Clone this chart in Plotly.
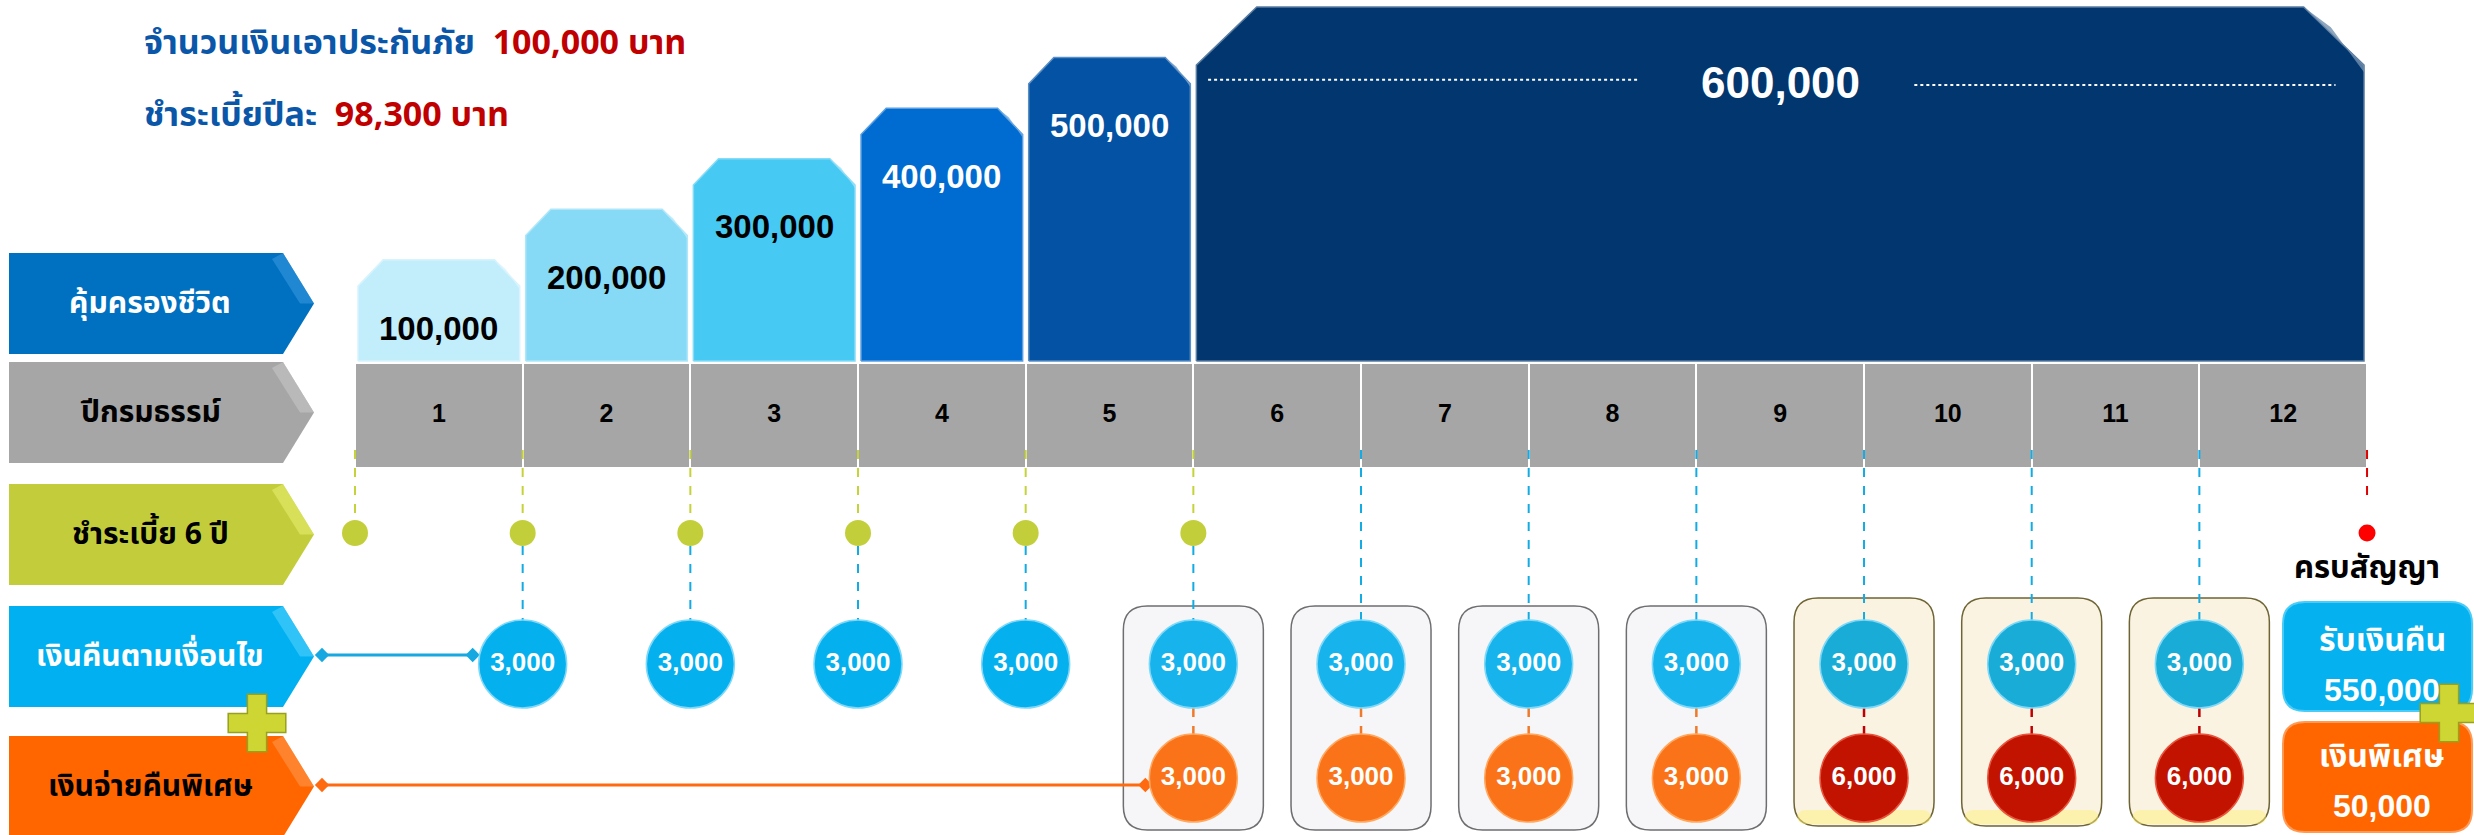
import plotly.graph_objects as go

# ---------------- data ----------------
years = [1, 2, 3, 4, 5, 6, 7, 8, 9, 10, 11, 12]
year_labels = ["1", "2", "3", "4", "5", "6", "7", "8", "9", "10", "11", "12"]
coverage = [100000, 200000, 300000, 400000, 500000, 600000, 600000,
            600000, 600000, 600000, 600000, 600000]
premium_years = [1, 2, 3, 4, 5, 6]
cashback_years = [1, 2, 3, 4, 5, 6, 7, 8, 9, 10, 11]
cashback_values = [3000, 3000, 3000, 3000, 3000, 3000, 3000, 3000, 3000, 3000, 3000]
special_years = [5, 6, 7, 8, 9, 10, 11]
special_values = [3000, 3000, 3000, 3000, 6000, 6000, 6000]
maturity_refund = 550000
maturity_bonus = 50000
sum_insured = 100000
annual_premium = 98300
row_labels = ["คุ้มครองชีวิต", "ปีกรมธรรม์", "ชำระเบี้ย 6 ปี", "เงินคืนตามเงื่อนไข", "เงินจ่ายคืนพิเศษ"]
title_labels = ["จำนวนเงินเอาประกันภัย", "ชำระเบี้ยปีละ"]
maturity_labels = ["รับเงินคืน", "เงินพิเศษ"]
maturity_caption = "ครบสัญญา"
currency = "บาท"

# ---------------- layout constants ----------------
W, H = 2474, 835
X0_PX = 355.0
COL_PX = 167.67


def px2x(px):
    return 0.5 + (px - X0_PX) / COL_PX


XR = [px2x(0), px2x(W)]
BAR_BASE_VALUE = -100000
BAR_BASE_PX = 361.0
BAR_TOP_PX = 7.0
K = (BAR_BASE_PX - BAR_TOP_PX) / (max(coverage) - BAR_BASE_VALUE)
Y2R = [BAR_BASE_VALUE - (H - BAR_BASE_PX) / K, BAR_BASE_VALUE + BAR_BASE_PX / K]

THAI = "Noto Sans Thai, Noto Sans, DejaVu Sans, Liberation Sans, sans-serif"
NUM = "Liberation Sans, Arial, sans-serif"

bar_colors = ["#C2EEFC", "#86DAF6", "#46C9F2", "#006BD0", "#0352A3", "#02366E"]
bar_text_colors = ["#000000", "#000000", "#000000", "#FFFFFF", "#FFFFFF", "#FFFFFF"]

label_rows = [(253, 354), (362, 463), (484, 585), (606, 707), (736, 837)]
label_fill = ["#0070C0", "#A6A6A6", "#C3CD3C", "#00B0F0", "#FF6600"]
label_hi = ["#3A9BE0", "#C8C8C8", "#E8F070", "#55D4FF", "#FF9A50"]
label_txt = ["#FFFFFF", "#000000", "#000000", "#FFFFFF", "#000000"]

GREY_TOP, GREY_BOT = 364, 467
LINE_TOP = 450
DOT_Y = 533
COIN_Y = 664
SPEC_Y = 778
COIN_PX = 88

fig = go.Figure()
shapes = []
annotations = []


def lighten(hexc, f):
    h = hexc.lstrip("#")
    r, g, b = int(h[0:2], 16), int(h[2:4], 16), int(h[4:6], 16)
    r = int(r + (255 - r) * f)
    g = int(g + (255 - g) * f)
    b = int(b + (255 - b) * f)
    return "#%02X%02X%02X" % (r, g, b)


def rrect(x0, x1, y0, y1, r_px):
    rx = r_px / COL_PX
    ry = r_px
    return (f"M{x0+rx},{y0} L{x1-rx},{y0} Q{x1},{y0} {x1},{y0+ry} "
            f"L{x1},{y1-ry} Q{x1},{y1} {x1-rx},{y1} L{x0+rx},{y1} "
            f"Q{x0},{y1} {x0},{y1-ry} L{x0},{y0+ry} Q{x0},{y0} {x0+rx},{y0} Z")


# ---------------- left row labels ----------------
for i, (t, b) in enumerate(label_rows):
    c = (t + b) / 2
    xa, xb, xt = px2x(9), px2x(283), px2x(314)
    shapes.append(dict(type="path", xref="x", yref="y",
                       path=f"M{xa},{t} L{xb},{t} L{xt},{c} L{xb},{b} L{xa},{b} Z",
                       fillcolor=label_fill[i], line=dict(width=0), layer="below"))
    shapes.append(dict(type="path", xref="x", yref="y",
                       path=f"M{px2x(272)},{t+6} L{xb},{t} L{xt},{c} L{px2x(300)},{c} Z",
                       fillcolor=label_hi[i], opacity=0.55, line=dict(width=0), layer="below"))
    annotations.append(dict(x=px2x(150), y=c, xref="x", yref="y",
                            text=f"<b>{row_labels[i]}</b>", showarrow=False,
                            font=dict(family=THAI, size=30, color=label_txt[i])))

# ---------------- coverage bars ----------------
groups = []
s = 0
for i in range(1, len(coverage) + 1):
    if i == len(coverage) or coverage[i] != coverage[s]:
        groups.append((years[s], years[i - 1], coverage[s]))
        s = i

gap = 0.018
for gi, (a, b, v) in enumerate(groups):
    n = b - a + 1
    L, R = a - 0.5 + gap, b + 0.5 - gap
    dx = 0.15 if n == 1 else 0.36
    dy = 52000 if n == 1 else 115000
    col = bar_colors[gi % len(bar_colors)]
    fig.add_trace(go.Scatter(
        x=[L, L, L + dx, R - dx, R, R, L],
        y=[BAR_BASE_VALUE, v - dy, v, v, v - dy, BAR_BASE_VALUE, BAR_BASE_VALUE],
        yaxis="y2", mode="lines", fill="toself", fillcolor=col,
        line=dict(color=lighten(col, 0.35), width=1.5), hoverinfo="skip"))
    fig.add_trace(go.Scatter(
        x=[R - dx, R, R, R - dx * 0.55, R - dx],
        y=[v, v - dy, v - dy * 1.12, v - dy * 0.35, v],
        yaxis="y2", mode="lines", fill="toself", fillcolor=lighten(col, 0.45),
        line=dict(width=0), opacity=0.8, hoverinfo="skip"))
    cx = (a + b) / 2
    big = n > 1
    annotations.append(dict(x=cx, y=v - (150000 if big else 135000), xref="x", yref="y2",
                            text=f"<b>{v:,}</b>", showarrow=False,
                            font=dict(family=NUM, size=44 if big else 33,
                                      color=bar_text_colors[gi % len(bar_text_colors)])))
    if big:
        yl = v - 150000
        fig.add_trace(go.Scatter(
            x=[L + 0.07, cx - 0.85, None, cx + 0.8, R - 0.17],
            y=[yl + 6000, yl + 6000, None, yl - 4000, yl - 4000],
            yaxis="y2", mode="lines", line=dict(color="#FFFFFF", width=2, dash="dot"),
            hoverinfo="skip"))

# ---------------- policy year cells ----------------
fig.add_trace(go.Bar(x=years, y=[GREY_BOT - GREY_TOP] * len(years), base=GREY_TOP,
                     width=0.988, marker=dict(color="#A6A6A6", line=dict(width=0)),
                     hoverinfo="skip"))
fig.add_trace(go.Scatter(x=years, y=[(GREY_TOP + GREY_BOT) / 2] * len(years),
                         mode="text", text=[f"<b>{t}</b>" for t in year_labels],
                         textfont=dict(family=NUM, size=25, color="#000000"),
                         hoverinfo="skip"))

# ---------------- special payout boxes ----------------
half = 70 / COL_PX
for yv, sv in zip(special_years, special_values):
    cx = yv + 0.5
    if sv >= 6000:
        y0, y1 = 598, 826
        shapes.append(dict(type="path", xref="x", yref="y", path=rrect(cx - half, cx + half, y0, y1, 24),
                           fillcolor="#FAF3E1", line=dict(color="#6F6434", width=1.5), layer="below"))
        shapes.append(dict(type="path", xref="x", yref="y",
                           path=rrect(cx - half + 0.02, cx + half - 0.02, y1 - 16, y1 - 2, 8),
                           fillcolor="#FFF27A", opacity=0.5, line=dict(width=0), layer="below"))
    else:
        y0, y1 = 606, 830
        shapes.append(dict(type="path", xref="x", yref="y", path=rrect(cx - half, cx + half, y0, y1, 24),
                           fillcolor="#F6F6F9", line=dict(color="#6E6E70", width=1.5), layer="below"))

# ---------------- premium dots and dashed guides ----------------
dot_x = [p - 0.5 for p in premium_years]
gx, gy = [], []
for x in dot_x:
    gx += [x, x, None]
    gy += [LINE_TOP, DOT_Y, None]
fig.add_trace(go.Scatter(x=gx, y=gy, mode="lines",
                         line=dict(color="#C5D33B", width=2, dash="dash"), hoverinfo="skip"))

cx_list, cy_list = [], []
for yv in cashback_years:
    x = yv + 0.5
    start = DOT_Y + 13 if any(abs(x - d) < 1e-6 for d in dot_x) else LINE_TOP
    cx_list += [x, x, None]
    cy_list += [start, COIN_Y - COIN_PX / 2, None]
fig.add_trace(go.Scatter(x=cx_list, y=cy_list, mode="lines",
                         line=dict(color="#13ABE3", width=2, dash="dash"), hoverinfo="skip"))

fig.add_trace(go.Scatter(x=dot_x, y=[DOT_Y] * len(dot_x), mode="markers",
                         marker=dict(size=26, color="#C3CF3A", line=dict(width=0)),
                         hoverinfo="skip"))

spec_map = dict(zip(special_years, special_values))
for yv in special_years:
    col = "#C00000" if spec_map[yv] >= 6000 else "#F07A2A"
    fig.add_trace(go.Scatter(x=[yv + 0.5, yv + 0.5],
                             y=[COIN_Y + COIN_PX / 2, SPEC_Y - COIN_PX / 2], mode="lines",
                             line=dict(color=col, width=2.5, dash="dash"), hoverinfo="skip"))

first_cb = cashback_years[0] + 0.5 - (COIN_PX / 2 + 6) / COL_PX
fig.add_trace(go.Scatter(x=[px2x(322), first_cb], y=[655, 655], mode="lines+markers",
                         line=dict(color="#16A8E0", width=3),
                         marker=dict(symbol="diamond", size=11, color="#16A8E0"),
                         hoverinfo="skip"))
first_sp = special_years[0] + 0.5 - (COIN_PX / 2 + 4) / COL_PX
fig.add_trace(go.Scatter(x=[px2x(322), first_sp], y=[785, 785], mode="lines+markers",
                         line=dict(color="#FF6A10", width=3),
                         marker=dict(symbol="diamond", size=11, color="#FF6A10"),
                         hoverinfo="skip"))

# ---------------- coins ----------------
cb_x = [y + 0.5 for y in cashback_years]
cb_col = ["#19ACD6" if spec_map.get(y, 0) >= 6000 else ("#17B3EC" if y in spec_map else "#05B0EF")
          for y in cashback_years]
fig.add_trace(go.Scatter(x=cb_x, y=[COIN_Y] * len(cb_x), mode="markers+text",
                         marker=dict(size=COIN_PX, color=cb_col,
                                     line=dict(color="#7FD8F7", width=1.5)),
                         text=[f"<b>{v:,}</b>" for v in cashback_values], textposition="middle center",
                         textfont=dict(family=NUM, size=26, color="#FFFFFF"), hoverinfo="skip"))

sp_x = [y + 0.5 for y in special_years]
sp_col = ["#C21300" if v >= 6000 else "#FA7318" for v in special_values]
sp_line = ["#E8553F" if v >= 6000 else "#FFA860" for v in special_values]
fig.add_trace(go.Scatter(x=sp_x, y=[SPEC_Y] * len(sp_x), mode="markers+text",
                         marker=dict(size=COIN_PX, color=sp_col, line=dict(color=sp_line, width=1.5)),
                         text=[f"<b>{v:,}</b>" for v in special_values], textposition="middle center",
                         textfont=dict(family=NUM, size=26, color="#FFFFFF"), hoverinfo="skip"))

# ---------------- maturity ----------------
mx = years[-1] + 0.5
fig.add_trace(go.Scatter(x=[mx, mx], y=[LINE_TOP, 503], mode="lines",
                         line=dict(color="#E00000", width=2, dash="dash"), hoverinfo="skip"))
fig.add_trace(go.Scatter(x=[mx], y=[DOT_Y], mode="markers",
                         marker=dict(size=17, color="#FF0000"), hoverinfo="skip"))
annotations.append(dict(x=mx, y=568, xref="x", yref="y", text=f"<b>{maturity_caption}</b>",
                        showarrow=False, font=dict(family=THAI, size=31, color="#000000")))

bx0, bx1 = px2x(2283), px2x(2472)
shapes.append(dict(type="path", xref="x", yref="y", path=rrect(bx0, bx1, 602, 711, 22),
                   fillcolor="#05B1EF", line=dict(color="#49CCF7", width=2), layer="below"))
shapes.append(dict(type="path", xref="x", yref="y", path=rrect(bx0, bx1, 722, 832, 22),
                   fillcolor="#FF6600", line=dict(color="#FF9A55", width=2), layer="below"))
tx = px2x(2382)
for yy, txt in [(641, maturity_labels[0]), (690, f"{maturity_refund:,}"),
                (757, maturity_labels[1]), (806, f"{maturity_bonus:,}")]:
    annotations.append(dict(x=tx, y=yy, xref="x", yref="y", text=f"<b>{txt}</b>", showarrow=False,
                            font=dict(family=THAI if not txt[0].isdigit() else NUM, size=32,
                                      color="#FFFFFF")))

fig.add_trace(go.Scatter(x=[px2x(257), px2x(2449)], y=[723, 713], mode="markers",
                         marker=dict(symbol="cross", size=48, color="#CDD632",
                                     line=dict(color="#98A01C", width=1.5)),
                         hoverinfo="skip"))

# ---------------- titles ----------------
annotations.append(dict(x=px2x(142), y=43, xref="x", yref="y", xanchor="left", showarrow=False,
                        text=(f"<b>{title_labels[0]}  <span style='color:#C00000'>"
                              f"{sum_insured:,} {currency}</span></b>"),
                        font=dict(family=THAI, size=34, color="#0A56A8")))
annotations.append(dict(x=px2x(142), y=115, xref="x", yref="y", xanchor="left", showarrow=False,
                        text=(f"<b>{title_labels[1]}  <span style='color:#C00000'>"
                              f"{annual_premium:,} {currency}</span></b>"),
                        font=dict(family=THAI, size=34, color="#0A56A8")))

fig.update_layout(
    width=W, height=H, margin=dict(l=0, r=0, t=0, b=0),
    paper_bgcolor="#FFFFFF", plot_bgcolor="#FFFFFF", showlegend=False,
    xaxis=dict(range=XR, visible=False, fixedrange=True),
    yaxis=dict(range=[H, 0], visible=False, fixedrange=True),
    yaxis2=dict(range=Y2R, visible=False, overlaying="y", fixedrange=True),
    shapes=shapes, annotations=annotations, bargap=0,
)
fig.write_html("out.html", config={"displayModeBar": False},
               post_script="document.body.style.margin='0px';document.body.style.padding='0px';"
                           "document.body.style.overflow='hidden';")
